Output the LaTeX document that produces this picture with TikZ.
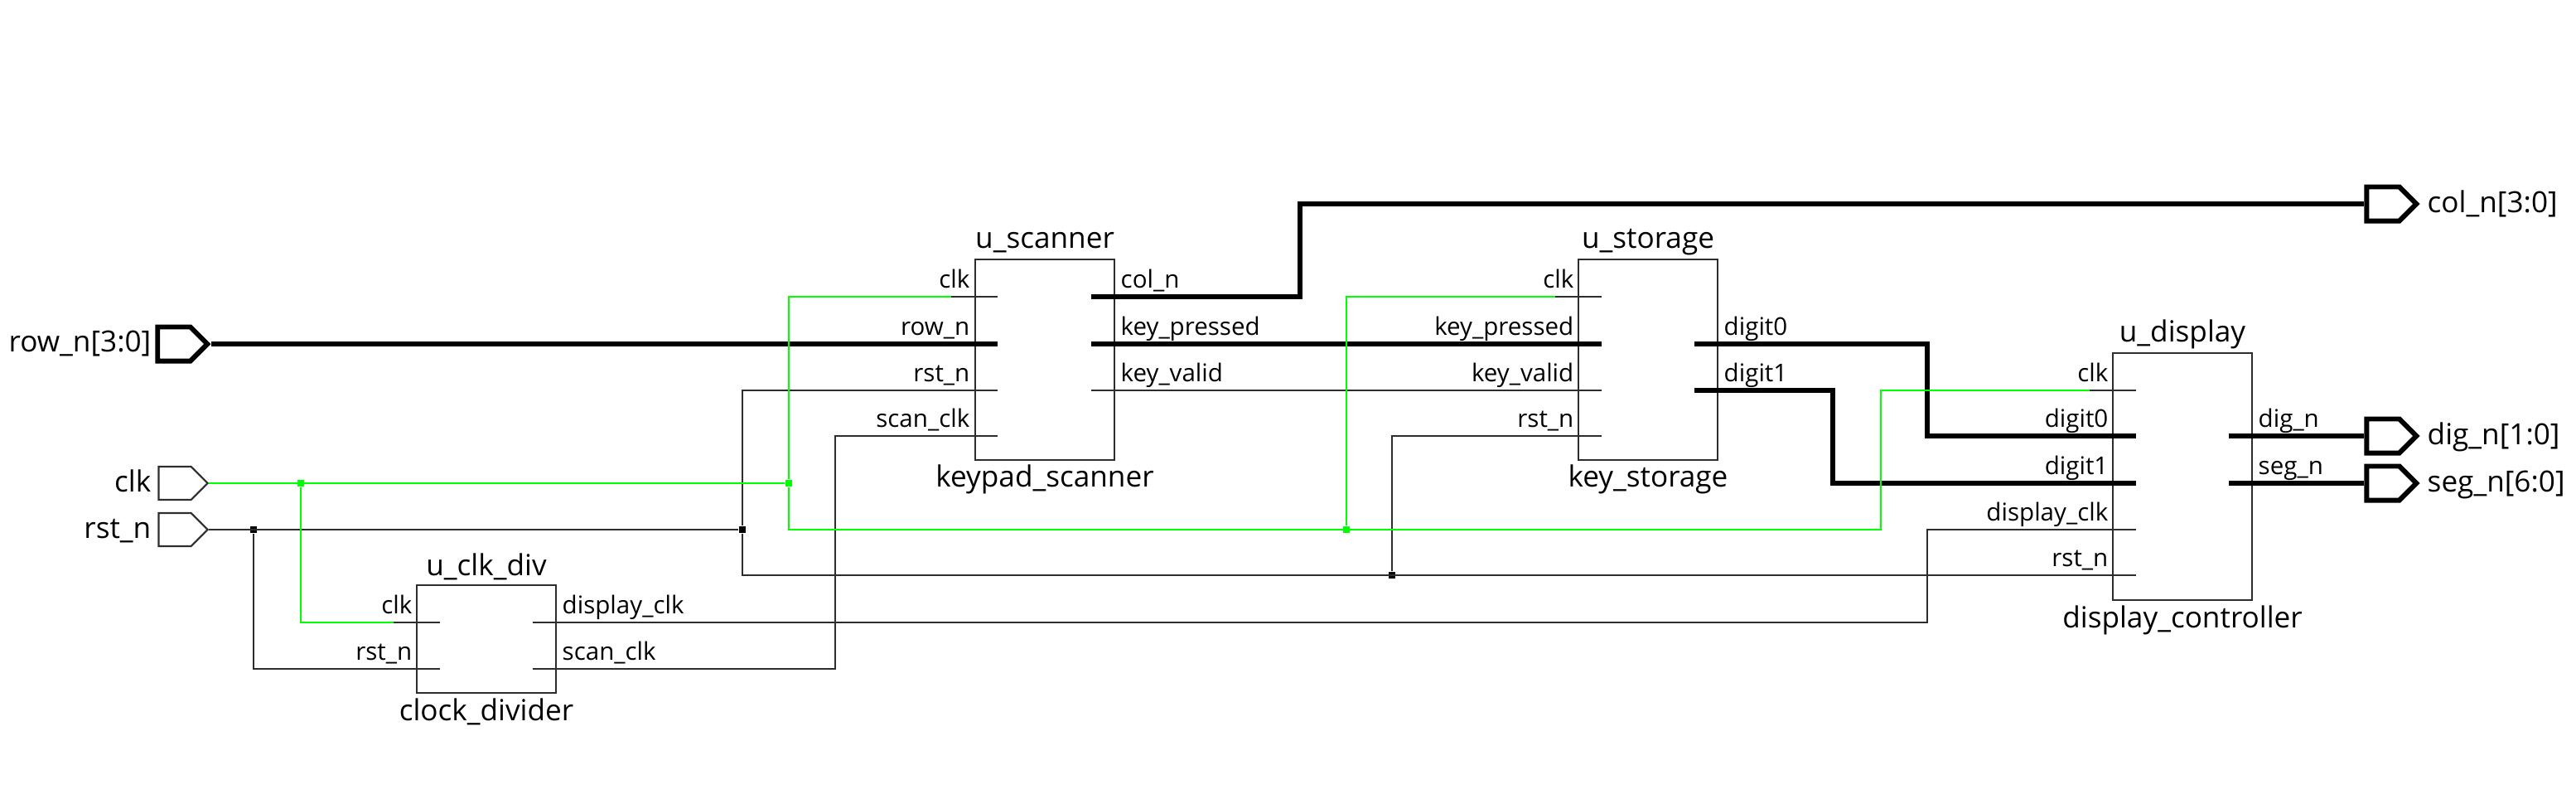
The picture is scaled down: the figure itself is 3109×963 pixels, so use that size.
\documentclass[tikz,border=0pt]{standalone}
\usepackage{fontspec}
\setmainfont{Open Sans}
\usetikzlibrary{shapes.symbols}
\usetikzlibrary{positioning}
\definecolor{netgreen}{RGB}{0,255,0}
\definecolor{netgray}{RGB}{45,45,45}
\tikzset{
    mybox/.style = {rectangle, draw=netgray, line width=0.6pt, fill=none, inner sep=0pt},
    mypin/.style = {signal, signal to=east, signal pointer angle=90, draw=netgray, line width=0.6pt, inner sep=0pt, minimum width=0.59cm, minimum height=0.4cm},
    mypinb/.style = {mypin, draw=black, line width=1.7pt, minimum width=0.6cm, minimum height=0.41cm},
    mydotk/.style = {rectangle, fill=black, inner sep=0pt, minimum size=0.08cm},
    mydotg/.style = {rectangle, fill=netgreen, inner sep=0pt, minimum size=0.08cm},
    lblmod/.style = {inner sep=0pt, anchor=base, font=\fontsize{10pt}{12pt}\selectfont},
    lblpin/.style = {inner sep=0pt, font=\fontsize{10pt}{12pt}\selectfont},
    lblport/.style = {inner sep=0pt, font=\fontsize{8.4pt}{10pt}\selectfont},
    edgen/.style = {-,line width=0.6pt,netgray},
    edgeb/.style = {-,line width=1.7pt,black},
    edgeg/.style = {-,line width=0.6pt,netgreen},
}
% left port: name, box edge, y, text, wire style
\newcommand{\portL}[5]{
    \coordinate (#1o) at ({#2-28},#3);
    \coordinate (#1) at ({#2+28},#3);
    \node[lblport, anchor=base east] (#1t) at ({#2-5},{#3-11}) {#4};
    \draw[#5] (#1o) -- (#1);
}
% right port: same order
\newcommand{\portR}[5]{
    \coordinate (#1) at ({#2-28},#3);
    \coordinate (#1o) at ({#2+28},#3);
    \node[lblport, anchor=base west] (#1t) at ({#2+7},{#3-11}) {#4};
    \draw[#5] (#1) -- (#1o);
}

\begin{document}
\begin{tikzpicture}[x=0.01cm,y=-0.01cm]
\useasboundingbox (0,0) rectangle (3109,963);
% top level pins
\node[mypinb] at (210,415) (prow) {};
\node[mypin] at (211,583) (pclk) {};
\node[mypin] at (211,639) (prst) {};
\node[mypinb] at (2876,246) (pcol) {};
\node[mypinb] at (2876,526) (pdig) {};
\node[mypinb] at (2876,583) (pseg) {};
\node[lblpin, anchor=base east] at (183,424) (trow) {row\_n[3:0]};
\node[lblpin, anchor=base east] at (183,593) (tclk) {clk};
\node[lblpin, anchor=base east] at (183,649) (trst) {rst\_n};
\node[lblpin, anchor=base west] at (2929,256) (tcol) {col\_n[3:0]};
\node[lblpin, anchor=base west] at (2929,536) (tdig) {dig\_n[1:0]};
\node[lblpin, anchor=base west] at (2929,593) (tseg) {seg\_n[6:0]};
% modules
\node[mybox, minimum width=1.68cm, minimum height=1.295cm] at (587,771) (div) {};
\node[mybox, minimum width=1.685cm, minimum height=2.42cm] at (1261,434) (scan) {};
\node[mybox, minimum width=1.675cm, minimum height=2.42cm] at (1989,434) (stor) {};
\node[mybox, minimum width=1.68cm, minimum height=2.97cm] at (2634,575) (disp) {};
\node[lblmod] at (587,694) (tdiv) {u\_clk\_div};
\node[lblmod] at (587,869) (ndiv) {clock\_divider};
\node[lblmod] at (1261,299) (tscan) {u\_scanner};
\node[lblmod] at (1261,587) (nscan) {keypad\_scanner};
\node[lblmod] at (1989,299) (tstor) {u\_storage};
\node[lblmod] at (1989,587) (nstor) {key\_storage};
\node[lblmod] at (2634,412) (tdisp) {u\_display};
\node[lblmod] at (2634,757) (ndisp) {display\_controller};
% ports
\portL{dc}{503}{751}{clk}{edgen}
\portL{dr}{503}{807}{rst\_n}{edgen}
\portR{dd}{671}{751}{display\_clk}{edgen}
\portR{ds}{671}{807}{scan\_clk}{edgen}
\portL{sc}{1176}{358}{clk}{edgen}
\portL{sw}{1176}{415}{row\_n}{edgeb}
\portL{sr}{1176}{471}{rst\_n}{edgen}
\portL{ss}{1176}{526}{scan\_clk}{edgen}
\portR{so}{1345}{358}{col\_n}{edgeb}
\portR{sp}{1345}{415}{key\_pressed}{edgeb}
\portR{sv}{1345}{471}{key\_valid}{edgen}
\portL{tc}{1905}{358}{clk}{edgen}
\portL{tp}{1905}{415}{key\_pressed}{edgeb}
\portL{tv}{1905}{471}{key\_valid}{edgen}
\portL{tr}{1905}{526}{rst\_n}{edgen}
\portR{t0}{2073}{415}{digit0}{edgeb}
\portR{t1}{2073}{471}{digit1}{edgeb}
\portL{yc}{2550}{471}{clk}{edgen}
\portL{y0}{2550}{526}{digit0}{edgeb}
\portL{y1}{2550}{583}{digit1}{edgeb}
\portL{yd}{2550}{639}{display\_clk}{edgen}
\portL{yr}{2550}{694}{rst\_n}{edgen}
\portR{yg}{2718}{526}{dig\_n}{edgeb}
\portR{ys}{2718}{583}{seg\_n}{edgeb}
% junctions
\node[mydotk] at (306,639) (jr1) {};
\node[mydotk] at (896,639) (jr2) {};
\node[mydotk] at (1680,694) (jr3) {};
\coordinate (jr4) at (896,694);
% black nets
\draw[edgen] (prst.east) -- (jr2);
\draw[edgen] (jr1) |- (dro);
\draw[edgen] (jr2) |- (sro);
\draw[edgen] (jr2) -- (jr4) -- (yro);
\draw[edgen] (jr3) |- (tro);
\draw[edgen] (ddo) -- (2326,751) |- (ydo);
\draw[edgen] (dso) -- (1008,807) |- (sso);
\draw[edgen] (svo) -- (tvo);
% thick nets
\draw[edgeb] (prow.east) -- (swo);
\draw[edgeb] (soo) -- (1569,358) |- (pcol.west);
\draw[edgeb] (spo) -- (tpo);
\draw[edgeb] (t0o) -- (2326,415) |- (y0o);
\draw[edgeb] (t1o) -- (2212,471) |- (y1o);
\draw[edgeb] (ygo) -- (pdig.west);
\draw[edgeb] (yso) -- (pseg.west);
% clk net
\node[mydotg] at (363,583) (jc1) {};
\node[mydotg] at (952,583) (jc2) {};
\node[mydotg] at (1625,639) (jc3) {};
\coordinate (jc4) at (952,639);
\draw[edgeg] (pclk.east) -- (jc2);
\draw[edgeg] (jc1) |- (dco);
\draw[edgeg] (jc2) |- (sco);
\draw[edgeg] (jc2) -- (jc4) -- (2270,639) |- (yco);
\draw[edgeg] (jc3) |- (tco);
\end{tikzpicture}
\end{document}
